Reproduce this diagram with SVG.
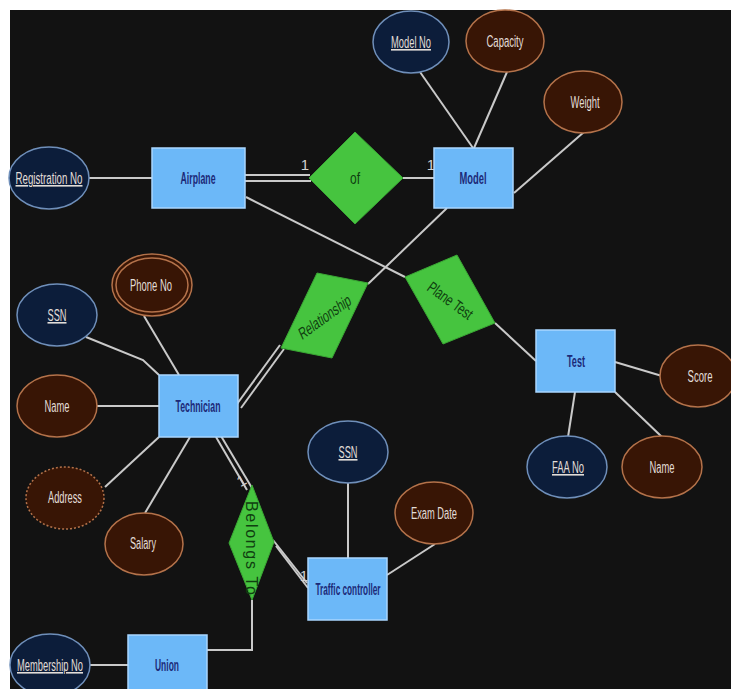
<svg xmlns="http://www.w3.org/2000/svg" width="731" height="689" viewBox="0 0 731 689">
<defs>
<style>
.bg{fill:#121212}
.ent rect{fill:#6cb8f8;stroke:#a9d6ff;stroke-width:1.5}
.ent text{fill:#1c2a78;font-family:"Liberation Sans",Arial,sans-serif;font-size:17px;font-weight:bold;text-anchor:middle}
.rel polygon{fill:#46c43f;stroke:#3aa634;stroke-width:1}
.rel text{fill:#0f3f10;font-family:"Liberation Sans",Arial,sans-serif;font-size:16px;text-anchor:middle}
.key ellipse{fill:#0c1d3a;stroke:#6f8fba;stroke-width:1.5}
.att ellipse{fill:#381505;stroke:#b4724a;stroke-width:1.5}
.key text,.att text{fill:#e2ddd8;font-family:"Liberation Sans",Arial,sans-serif;font-size:16px;text-anchor:middle}
.key text{text-decoration:underline}
.conn line,.conn polyline{stroke:#c9c9c9;stroke-width:2;fill:none}
.card{fill:#d0d0d0;font-family:"Liberation Sans",Arial,sans-serif;font-size:15px;text-anchor:middle}
</style>
</defs>
<rect width="731" height="689" fill="#ffffff"/>
<rect class="bg" x="10" y="10" width="721" height="679"/>

<g id="connectors" class="conn">
<line x1="89" y1="178" x2="152" y2="178"/>
<line x1="245" y1="175" x2="310" y2="175"/>
<line x1="245" y1="181" x2="311" y2="181"/>
<line x1="403" y1="178" x2="434" y2="178"/>
<line x1="420" y1="72" x2="473" y2="148"/>
<line x1="507" y1="72" x2="474" y2="148"/>
<line x1="584" y1="132" x2="514" y2="193"/>
<line x1="246" y1="197" x2="405" y2="277"/>
<line x1="447" y1="208" x2="368" y2="284"/>
<line x1="495" y1="323" x2="536" y2="361"/>
<line x1="615" y1="362" x2="662" y2="376"/>
<line x1="575" y1="392" x2="568" y2="437"/>
<line x1="615" y1="392" x2="662" y2="437"/>
<line x1="280" y1="345" x2="237" y2="404"/>
<line x1="284" y1="349" x2="241" y2="408"/>
<polyline points="86,337 143,360 159,375"/>
<line x1="144" y1="316" x2="179" y2="375"/>
<line x1="97" y1="406" x2="159" y2="406"/>
<line x1="159" y1="437" x2="105" y2="487"/>
<line x1="190" y1="437" x2="145" y2="513"/>
<line x1="216" y1="437" x2="247" y2="490"/>
<line x1="221" y1="436" x2="252" y2="488"/>
<line x1="273" y1="540" x2="307" y2="583"/>
<line x1="276" y1="546" x2="308" y2="588"/>
<line x1="348" y1="483" x2="348" y2="558"/>
<line x1="387" y1="575" x2="435" y2="544"/>
<polyline points="252,600 252,650 207,650"/>
<line x1="89" y1="665" x2="128" y2="665"/>
</g>

<g id="cardinality">
<text class="card" x="305" y="170">1</text>
<text class="card" x="431" y="170">1</text>
<text class="card" x="241" y="486" transform="rotate(-30 241 480)">1</text>
<text class="card" x="304" y="581">1</text>
</g>

<g id="airplane" class="ent"><rect x="152" y="148" width="93" height="60"/><text x="198" y="184" textLength="35" lengthAdjust="spacingAndGlyphs">Airplane</text></g>
<g id="model" class="ent"><rect x="434" y="148" width="79" height="60"/><text x="473" y="184" textLength="27" lengthAdjust="spacingAndGlyphs">Model</text></g>
<g id="test" class="ent"><rect x="536" y="330" width="79" height="62"/><text x="576" y="367" textLength="18" lengthAdjust="spacingAndGlyphs">Test</text></g>
<g id="technician" class="ent"><rect x="159" y="375" width="79" height="62"/><text x="198" y="412" textLength="45" lengthAdjust="spacingAndGlyphs">Technician</text></g>
<g id="traffic-controller" class="ent"><rect x="308" y="558" width="79" height="62"/><text x="348" y="595" textLength="65" lengthAdjust="spacingAndGlyphs">Traffic controller</text></g>
<g id="union" class="ent"><rect x="128" y="635" width="79" height="62"/><text x="167" y="671" textLength="24" lengthAdjust="spacingAndGlyphs">Union</text></g>

<g id="of" class="rel"><polygon points="355,132 403,178 355,224 309,178"/><text x="355" y="184" textLength="10" lengthAdjust="spacingAndGlyphs">of</text></g>
<g id="plane-test" class="rel"><polygon points="405,277 457,255 495,323 443,344"/><text x="0" y="0" textLength="52" lengthAdjust="spacingAndGlyphs" transform="translate(447,305) rotate(36)">Plane Test</text></g>
<g id="relationship" class="rel"><polygon points="317,273 368,283 332,358 281,348"/><text x="0" y="0" textLength="62" lengthAdjust="spacingAndGlyphs" transform="translate(327,322) rotate(-36) skewX(-12)">Relationship</text></g>
<g id="belongs-to" class="rel"><polygon points="252,485 274,542 252,600 229,543"/><text x="0" y="0" font-size="15" textLength="94" lengthAdjust="spacing" transform="translate(246,548) rotate(90)">Belongs To</text></g>

<g id="registration-no" class="key"><ellipse cx="49" cy="178" rx="40" ry="31"/><text x="49" y="184" textLength="67" lengthAdjust="spacingAndGlyphs">Registration No</text></g>
<g id="model-no" class="key"><ellipse cx="411" cy="42" rx="38" ry="31"/><text x="411" y="48" textLength="40" lengthAdjust="spacingAndGlyphs">Model No</text></g>
<g id="capacity" class="att"><ellipse cx="505" cy="41" rx="39" ry="31"/><text x="505" y="47" textLength="37" lengthAdjust="spacingAndGlyphs">Capacity</text></g>
<g id="weight" class="att"><ellipse cx="583" cy="102" rx="39" ry="31"/><text x="585" y="108" textLength="29" lengthAdjust="spacingAndGlyphs">Weight</text></g>
<g id="phone-no" class="att"><ellipse cx="152" cy="285" rx="40" ry="31"/><ellipse cx="152" cy="285" rx="36" ry="27"/><text x="151" y="291" textLength="42" lengthAdjust="spacingAndGlyphs">Phone No</text></g>
<g id="tech-ssn" class="key"><ellipse cx="57" cy="315" rx="40" ry="31"/><text x="57" y="321" textLength="19" lengthAdjust="spacingAndGlyphs">SSN</text></g>
<g id="tech-name" class="att"><ellipse cx="57" cy="406" rx="40" ry="31"/><text x="57" y="412" textLength="25" lengthAdjust="spacingAndGlyphs">Name</text></g>
<g id="address" class="att"><ellipse cx="65" cy="498" rx="39" ry="31" stroke-dasharray="2,2"/><text x="65" y="503" textLength="34" lengthAdjust="spacingAndGlyphs">Address</text></g>
<g id="salary" class="att"><ellipse cx="144" cy="544" rx="39" ry="31"/><text x="143" y="549" textLength="26" lengthAdjust="spacingAndGlyphs">Salary</text></g>
<g id="tc-ssn" class="key"><ellipse cx="348" cy="452" rx="40" ry="31"/><text x="348" y="458" textLength="19" lengthAdjust="spacingAndGlyphs">SSN</text></g>
<g id="exam-date" class="att"><ellipse cx="434" cy="513" rx="39" ry="31"/><text x="434" y="519" textLength="46" lengthAdjust="spacingAndGlyphs">Exam Date</text></g>
<g id="score" class="att"><ellipse cx="698" cy="376" rx="38" ry="31"/><text x="700" y="382" textLength="25" lengthAdjust="spacingAndGlyphs">Score</text></g>
<g id="faa-no" class="key"><ellipse cx="567" cy="467" rx="40" ry="31"/><text x="568" y="473" textLength="32" lengthAdjust="spacingAndGlyphs">FAA No</text></g>
<g id="test-name" class="att"><ellipse cx="662" cy="467" rx="40" ry="31"/><text x="662" y="473" textLength="25" lengthAdjust="spacingAndGlyphs">Name</text></g>
<g id="membership-no" class="key"><ellipse cx="50" cy="665" rx="40" ry="31"/><text x="50" y="671" textLength="66" lengthAdjust="spacingAndGlyphs">Membership No</text></g>
</svg>
